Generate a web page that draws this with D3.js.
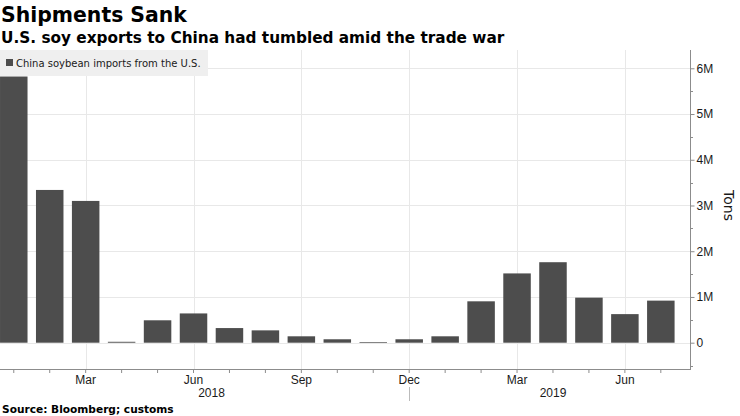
<!DOCTYPE html>
<html>
<head>
<meta charset="utf-8">
<script src="https://cdn.jsdelivr.net/npm/d3@7"></script>
<style>
  html, body { margin: 0; padding: 0; background: #fff; }
  svg { display: block; }
</style>
</head>
<body>
<svg id="chart" width="740" height="416"></svg>
<script>
// ---- Data ----
const months = ["2018-01","2018-02","2018-03","2018-04","2018-05","2018-06","2018-07","2018-08","2018-09","2018-10","2018-11","2018-12",
                "2019-01","2019-02","2019-03","2019-04","2019-05","2019-06","2019-07"];
const imports = [5820000, 3340000, 3100000, 20000, 490000, 640000, 320000, 270000, 140000, 75000, 15000, 75000,
                 140000, 905000, 1515000, 1760000, 985000, 625000, 920000];
const monthLabels = {"2018-03":"Mar","2018-06":"Jun","2018-09":"Sep","2018-12":"Dec","2019-03":"Mar","2019-06":"Jun"};
const years = ["2018","2019"];
const yTicks = [0, 1000000, 2000000, 3000000, 4000000, 5000000, 6000000];
const yTickLabels = ["0","1M","2M","3M","4M","5M","6M"];
const yMinorTicks = [-500000, 500000, 1500000, 2500000, 3500000, 4500000, 5500000];
const title = "Shipments Sank";
const subtitle = "U.S. soy exports to China had tumbled amid the trade war";
const legendLabel = "China soybean imports from the U.S.";
const source = "Source: Bloomberg; customs";
const yAxisTitle = "Tons";

// ---- Layout ----
const svg = d3.select("#chart");
const plotLeft = 0, plotRight = 690, plotTop = 50, plotBottom = 369;
const barColor = "#4d4d4d";
const gridColor = "#e8e8e8";
const axisColor = "#8c8c8c";
const textColor = "#1a1a1a";
const tickFont = "'Liberation Sans', Arial, sans-serif";

const x = d3.scaleBand()
  .domain(months)
  .range([-4.2, 678.8])
  .paddingInner(0.235)
  .paddingOuter(0.1175);

const y = d3.scaleLinear()
  .domain([-575000, 6400000])
  .range([plotBottom, plotTop]);

const cx = m => x(m) + x.bandwidth() / 2;

// gridlines horizontal
svg.append("g").selectAll("line").data(yTicks).join("line")
  .attr("x1", plotLeft).attr("x2", plotRight)
  .attr("y1", d => Math.round(y(d)) + 0.5).attr("y2", d => Math.round(y(d)) + 0.5)
  .attr("stroke", gridColor).attr("stroke-width", 1);

// gridlines vertical at labelled months
const labelled = months.filter(m => monthLabels[m]);
svg.append("g").selectAll("line").data(labelled).join("line")
  .attr("x1", d => Math.round(cx(d)) + 0.5).attr("x2", d => Math.round(cx(d)) + 0.5)
  .attr("y1", plotTop).attr("y2", plotBottom)
  .attr("stroke", gridColor).attr("stroke-width", 1);

// bars
svg.append("g").selectAll("rect").data(months).join("rect")
  .attr("x", d => x(d))
  .attr("width", x.bandwidth())
  .attr("y", (d, i) => y(Math.max(0, imports[i])))
  .attr("height", (d, i) => Math.abs(y(imports[i]) - y(0)))
  .attr("fill", barColor);

// bottom axis
const xAxis = d3.axisBottom(x)
  .tickSize(4)
  .tickFormat(d => monthLabels[d] || "");
const gx = svg.append("g")
  .attr("transform", `translate(0,${plotBottom})`)
  .call(xAxis);
gx.select(".domain").remove();
gx.selectAll(".tick line").attr("stroke", axisColor);
gx.selectAll(".tick text")
  .attr("y", 6)
  .attr("fill", textColor)
  .style("font-family", tickFont)
  .style("font-size", "12px");
svg.append("line")
  .attr("x1", plotLeft).attr("x2", plotRight)
  .attr("y1", plotBottom + 0.5).attr("y2", plotBottom + 0.5)
  .attr("stroke", axisColor);

// year labels
years.forEach(yr => {
  const ms = months.filter(m => m.startsWith(yr));
  const mid = (cx(ms[0]) + cx(ms[ms.length - 1])) / 2;
  svg.append("text")
    .attr("x", mid).attr("y", 397)
    .attr("text-anchor", "middle")
    .attr("fill", textColor)
    .style("font-family", tickFont)
    .style("font-size", "12px")
    .text(yr);
});
// year separator at last month of first year
const sepX = Math.round(cx(months.filter(m => m.startsWith(years[0])).slice(-1)[0])) + 0.5;
svg.append("line")
  .attr("x1", sepX).attr("x2", sepX)
  .attr("y1", 387).attr("y2", 401)
  .attr("stroke", "#bbbbbb");

// right axis
const yAxis = d3.axisRight(y)
  .tickValues(yTicks)
  .tickSize(4)
  .tickFormat((d, i) => yTickLabels[i]);
const gy = svg.append("g")
  .attr("transform", `translate(${plotRight + 0.5},0)`)
  .call(yAxis);
gy.select(".domain").remove();
gy.selectAll(".tick line").attr("stroke", axisColor);
gy.selectAll(".tick text")
  .attr("x", 6)
  .attr("fill", textColor)
  .style("font-family", tickFont)
  .style("font-size", "12px");
svg.append("g").selectAll("line").data(yMinorTicks).join("line")
  .attr("x1", plotRight).attr("x2", plotRight + 3)
  .attr("y1", d => Math.round(y(d)) + 0.5).attr("y2", d => Math.round(y(d)) + 0.5)
  .attr("stroke", axisColor);
svg.append("line")
  .attr("x1", plotRight + 0.5).attr("x2", plotRight + 0.5)
  .attr("y1", plotTop).attr("y2", plotBottom + 1)
  .attr("stroke", axisColor);

// axis title
svg.append("text")
  .attr("transform", `translate(724,${(y(0) + y(6000000)) / 2}) rotate(90)`)
  .attr("text-anchor", "middle")
  .attr("fill", textColor)
  .style("font-family", "'DejaVu Sans', sans-serif")
  .style("font-size", "14px")
  .text(yAxisTitle);

// legend
svg.append("rect")
  .attr("x", 0).attr("y", 50).attr("width", 208).attr("height", 26)
  .attr("fill", "#efefef");
svg.append("rect")
  .attr("x", 6).attr("y", 59).attr("width", 7).attr("height", 7)
  .attr("fill", barColor);
svg.append("text")
  .attr("x", 16).attr("y", 67)
  .attr("fill", textColor)
  .style("font-family", "'DejaVu Sans', sans-serif")
  .style("font-size", "10px")
  .text(legendLabel);

// titles
svg.append("text")
  .attr("x", 1).attr("y", 22)
  .attr("fill", "#000")
  .style("font-family", "'DejaVu Sans', sans-serif")
  .style("font-weight", "bold")
  .style("font-size", "20.4px")
  .text(title);
svg.append("text")
  .attr("x", 1).attr("y", 43)
  .attr("fill", "#000")
  .style("font-family", "'DejaVu Sans', sans-serif")
  .style("font-weight", "bold")
  .style("font-size", "15.3px")
  .text(subtitle);
svg.append("text")
  .attr("x", 2).attr("y", 413)
  .attr("fill", "#000")
  .style("font-family", "'DejaVu Sans', sans-serif")
  .style("font-weight", "bold")
  .style("font-size", "10.6px")
  .text(source);
</script>
</body>
</html>
